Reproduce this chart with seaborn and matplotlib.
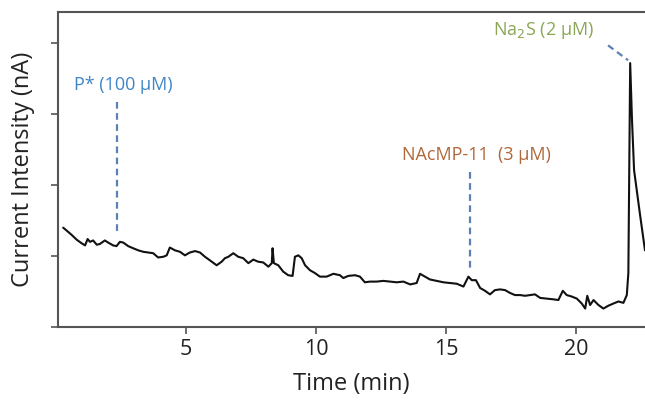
import pandas as pd
import seaborn as sns
import matplotlib.pyplot as plt

# Amperometric trace (time in min, current in arbitrary nA units)
time_min = [
    0.28, 0.41, 0.60, 0.80, 0.99, 1.12, 1.22, 1.31, 1.43, 1.57, 1.69, 1.88, 2.01, 2.20,
    2.33, 2.46, 2.59, 2.78, 2.97, 3.17, 3.36, 3.55, 3.74, 3.93, 4.13, 4.26, 4.38, 4.58,
    4.77, 4.96, 5.15, 5.35, 5.54, 5.73, 5.92, 6.18, 6.37, 6.50, 6.63, 6.82, 7.01, 7.20,
    7.40, 7.59, 7.78, 7.97, 8.17, 8.30, 8.33, 8.38, 8.55, 8.74, 8.93, 9.10, 9.19, 9.32,
    9.45, 9.58, 9.77, 9.96, 10.15, 10.41, 10.67, 10.92, 11.05, 11.24, 11.50, 11.69, 11.88,
    12.08, 12.33, 12.59, 12.85, 13.10, 13.36, 13.62, 13.87, 14.00, 14.19, 14.38, 14.64,
    14.90, 15.15, 15.41, 15.67, 15.86, 15.99, 16.15, 16.31, 16.50, 16.69, 16.88, 17.08,
    17.27, 17.46, 17.65, 17.85, 18.04, 18.23, 18.42, 18.62, 18.87, 19.13, 19.32, 19.49,
    19.64, 19.83, 20.03, 20.22, 20.35, 20.43, 20.54, 20.67, 20.86, 21.05, 21.24, 21.43,
    21.63, 21.82, 21.95, 22.01, 22.08, 22.15, 22.23, 22.46, 22.65,
]
current_nA = [
    1.40, 1.36, 1.30, 1.23, 1.18, 1.15, 1.24, 1.20, 1.22, 1.16, 1.17, 1.22, 1.19, 1.15,
    1.14, 1.20, 1.19, 1.14, 1.11, 1.08, 1.06, 1.05, 1.04, 0.98, 0.99, 1.01, 1.12, 1.08,
    1.06, 1.01, 1.05, 1.07, 1.05, 0.99, 0.94, 0.87, 0.92, 0.97, 0.99, 1.04, 0.99, 0.97,
    0.90, 0.95, 0.92, 0.91, 0.85, 0.90, 1.11, 0.90, 0.87, 0.78, 0.73, 0.72, 0.99, 1.01,
    0.97, 0.87, 0.80, 0.76, 0.71, 0.71, 0.75, 0.73, 0.69, 0.72, 0.73, 0.71, 0.63,
    0.64, 0.64, 0.65, 0.64, 0.63, 0.64, 0.60, 0.62, 0.75, 0.71, 0.67, 0.65,
    0.63, 0.62, 0.61, 0.57, 0.71, 0.66, 0.66, 0.55, 0.51, 0.46, 0.52, 0.53,
    0.52, 0.48, 0.45, 0.45, 0.44, 0.45, 0.46, 0.41, 0.40, 0.39, 0.38, 0.51,
    0.45, 0.43, 0.40, 0.33, 0.26, 0.44, 0.31, 0.38, 0.31, 0.26, 0.30, 0.33,
    0.36, 0.34, 0.45, 0.76, 3.72, 2.92, 2.21, 1.58, 1.08,
]

# Injection markers: label, text position, dashed line start/end
labels = ["P* (100 µM)", "NAcMP-11  (3 µM)", "Na$_2$S (2 µM)"]
label_colors = ["#3f86c6", "#b0683a", "#8aa656"]
label_xy = [(2.58, 3.41), (16.15, 2.42), (18.73, 4.18)]
marker_x = [(2.35, 2.35), (15.92, 15.92), (21.23, 22.0)]
marker_y = [(3.17, 1.30), (2.18, 0.77), (3.97, 3.76)]

df = pd.DataFrame({"Time (min)": time_min, "Current": current_nA})

sns.set_style("ticks")
plt.rcParams["font.family"] = ["Open Sans", "DejaVu Sans"]

fig = plt.figure(figsize=(6.45, 4.0), dpi=100)
ax = fig.add_axes([58 / 645, 73 / 400, 587 / 645, 315 / 400])

sns.lineplot(data=df, x="Time (min)", y="Current", color="#111111",
             linewidth=1.5, estimator=None, ax=ax)

for (x0, x1), (y0, y1) in zip(marker_x, marker_y):
    ax.plot([x0, x1], [y0, y1], color="#5a80b4", linestyle=(0, (3, 2)), linewidth=1.6)

for txt, (tx, ty), c in zip(labels, label_xy, label_colors):
    ax.text(tx, ty, txt, color=c, fontsize=13, ha="center", va="center")

ax.set_xlim(0.08, 22.65)
ax.set_ylim(0, 4.44)
ax.set_xticks([5, 10, 15, 20])
ax.set_yticks([0, 1, 2, 3, 4])
ax.set_yticklabels([])
ax.tick_params(axis="both", direction="out", length=5, width=1.2, color="#555555",
               labelsize=15.5, labelcolor="#222222")
ax.set_xlabel("Time (min)", fontsize=17, color="#222222", labelpad=9)
ax.set_ylabel("Current Intensity (nA)", fontsize=17, color="#222222", labelpad=8)

for side in ["left", "bottom", "top"]:
    ax.spines[side].set_color("#555555")
    ax.spines[side].set_linewidth(1.5)
ax.spines["right"].set_visible(False)

fig.savefig("out.png", dpi=100)
